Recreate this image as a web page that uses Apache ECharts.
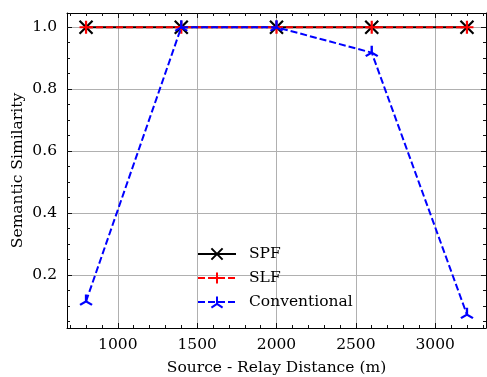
<!DOCTYPE html>
<html>
<head>
<meta charset="utf-8">
<script src="https://cdn.jsdelivr.net/npm/echarts@6/dist/echarts.min.js"></script>
<style>
  html, body { margin: 0; padding: 0; background: #fff; }
  #main { width: 487px; height: 377px; }
</style>
</head>
<body>
<div id="main"></div>
<script>
// data
const distances = [800, 1400, 2000, 2600, 3200];
const spf = [1.0, 1.0, 1.0, 1.0, 1.0];
const slf = [1.0, 1.0, 1.0, 1.0, 1.0];
const conventional = [0.115, 1.0, 1.0, 0.918, 0.072];

const xMajorTicks = [1000, 1500, 2000, 2500, 3000];
const xMinorTicks = [700, 800, 900, 1000, 1100, 1200, 1300, 1400, 1500, 1600, 1700, 1800, 1900, 2000,
  2100, 2200, 2300, 2400, 2500, 2600, 2700, 2800, 2900, 3000, 3100, 3200, 3300];
const yMajorTicks = [0.2, 0.4, 0.6, 0.8, 1.0];
const yMinorTicks = [0.05, 0.1, 0.15, 0.2, 0.25, 0.3, 0.35, 0.4, 0.45, 0.5, 0.55, 0.6, 0.65,
  0.7, 0.75, 0.8, 0.85, 0.9, 0.95, 1.0];

const FONT = 'DejaVu Serif';
const FS = 15.5;
const X_MIN = 680, X_MAX = 3320;
const Y_MIN = 0.029, Y_MAX = 1.046;

const gridBox = { left: 67, right: 1, top: 13, bottom: 49, containLabel: false, outerBoundsMode: 'none' };

function pair(list) {
  return list.map((v, i) => [distances[i], v]);
}

// axis that only draws ticks (top/right mirrors and the minor ticks)
function tickAxis(kind, pos, gridIndex, ticks, len, showLine) {
  return {
    type: 'value', gridIndex: gridIndex, position: pos,
    min: kind === 'x' ? X_MIN : Y_MIN, max: kind === 'x' ? X_MAX : Y_MAX,
    splitNumber: 5,
    axisLine: { show: showLine, onZero: false, lineStyle: { color: '#000', width: 1 } },
    axisTick: { show: true, inside: true, length: len, customValues: ticks, lineStyle: { color: '#111', width: 1 } },
    axisLabel: { show: false },
    splitLine: { show: false }
  };
}

const chart = echarts.init(document.getElementById('main'), null, { renderer: 'canvas' });

const option = {
  animation: false,
  backgroundColor: '#fff',
  grid: [
    Object.assign({}, gridBox),
    Object.assign({}, gridBox)
  ],
  xAxis: [
    {
      type: 'value', gridIndex: 0, position: 'bottom',
      min: X_MIN, max: X_MAX, splitNumber: 5,
      name: 'Source - Relay Distance (m)',
      nameLocation: 'middle', nameGap: 32, nameMoveOverlap: false,
      nameTextStyle: { fontFamily: FONT, fontSize: FS, color: '#000' },
      axisLine: { show: true, onZero: false, lineStyle: { color: '#000', width: 1 } },
      axisTick: { show: true, inside: true, length: 5, customValues: xMajorTicks, lineStyle: { color: '#111' } },
      axisLabel: {
        customValues: xMajorTicks,
        margin: 9, fontFamily: FONT, fontSize: FS, color: '#000',
        formatter: v => String(v)
      },
      splitLine: { show: true, lineStyle: { color: '#b0b0b0', width: 1 } }
    },
    tickAxis('x', 'top', 0, xMajorTicks, 5, true),
    tickAxis('x', 'bottom', 1, xMinorTicks, 3, false),
    tickAxis('x', 'top', 1, xMinorTicks, 3, false)
  ],
  yAxis: [
    {
      type: 'value', gridIndex: 0, position: 'left',
      min: Y_MIN, max: Y_MAX, splitNumber: 5,
      name: 'Semantic Similarity',
      nameLocation: 'middle', nameGap: 41, nameRotate: 90, nameMoveOverlap: false,
      nameTextStyle: { fontFamily: FONT, fontSize: FS, color: '#000' },
      axisLine: { show: true, onZero: false, lineStyle: { color: '#000', width: 1 } },
      axisTick: { show: true, inside: true, length: 5, customValues: yMajorTicks, lineStyle: { color: '#111' } },
      axisLabel: {
        customValues: yMajorTicks,
        margin: 10, fontFamily: FONT, fontSize: FS, color: '#000',
        formatter: v => v.toFixed(1)
      },
      splitLine: { show: true, lineStyle: { color: '#b0b0b0', width: 1 } }
    },
    tickAxis('y', 'right', 0, yMajorTicks, 5, true),
    tickAxis('y', 'left', 1, yMinorTicks, 3, false),
    tickAxis('y', 'right', 1, yMinorTicks, 3, false)
  ],
  legend: {
    orient: 'vertical',
    left: 192, top: 241,
    itemWidth: 38, itemHeight: 14, itemGap: 8,
    textStyle: { fontFamily: FONT, fontSize: FS, color: '#000', padding: [0, 0, 0, 8] },
    data: ['SPF', 'SLF', 'Conventional']
  },
  series: [
    {
      name: 'SPF', type: 'line', xAxisIndex: 0, yAxisIndex: 0,
      data: pair(spf),
      symbol: 'path://M0,0L100,100M100,0L0,100', symbolSize: 13,
      lineStyle: { color: '#000', width: 2 },
      itemStyle: { color: '#000', borderColor: '#000', borderWidth: 2.2 },
      emphasis: { disabled: true }, z: 3
    },
    {
      name: 'SLF', type: 'line', xAxisIndex: 0, yAxisIndex: 0,
      data: pair(slf),
      symbol: 'path://M50,0L50,100M0,50L100,50', symbolSize: 13,
      lineStyle: { color: '#ff0000', width: 2, type: [7, 3] },
      itemStyle: { color: '#ff0000', borderColor: '#ff0000', borderWidth: 2.2 },
      emphasis: { disabled: true }, z: 4
    },
    {
      name: 'Conventional', type: 'line', xAxisIndex: 0, yAxisIndex: 0,
      data: pair(conventional),
      symbol: 'path://M50,50L50,0M50,50L6.7,75M50,50L93.3,75', symbolSize: [12, 10.4],
      symbolOffset: [0, -1.7],
      lineStyle: { color: '#0000ff', width: 2, type: [7, 3] },
      itemStyle: { color: '#0000ff', borderColor: '#0000ff', borderWidth: 2.2 },
      emphasis: { disabled: true }, z: 5
    }
  ]
};

chart.setOption(option);
</script>
</body>
</html>
